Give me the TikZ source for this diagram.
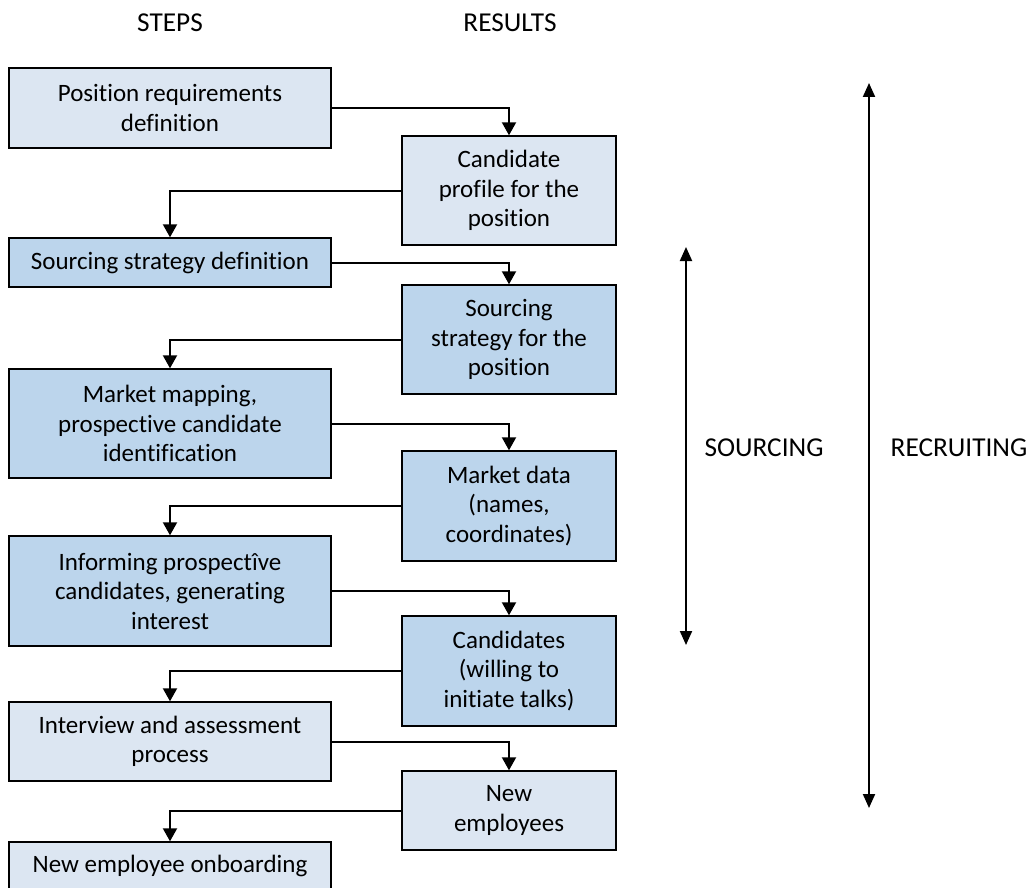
\documentclass[tikz,border=0pt]{standalone}
\usepackage{fontspec}
\setmainfont{Carlito}[Ligatures=NoCommon]
\usetikzlibrary{arrows.meta}
\definecolor{lightbox}{HTML}{DCE6F2}
\definecolor{darkbox}{HTML}{BCD5EC}
\tikzset{
  box/.style={draw=black, line width=1.4pt, rectangle, align=center, inner sep=0pt,
    font=\fontsize{25}{29.5}\selectfont},
  lbox/.style={box, minimum width=322pt},
  rbox/.style={box, minimum width=214pt},
  light/.style={fill=lightbox},
  dark/.style={fill=darkbox},
  flow/.style={line width=2pt, -{Triangle[width=14pt,length=13pt]}},
  span/.style={line width=2pt, {Triangle[width=12pt,length=14pt]}-{Triangle[width=12pt,length=14pt]}},
  lbl/.style={font=\fontsize{27.3}{32}\selectfont, inner sep=0pt}
}
\begin{document}
\begin{tikzpicture}[x=1pt,y=-1pt]
\useasboundingbox (0,0) rectangle (1031,888);
% headers
\node[lbl] (steps) at (170,23) {STEPS};
\node[lbl] (results) at (510,23) {RESULTS};
% left column
\node[lbox,light,minimum height=80pt]  (L1) at (170,108) {Position requirements\\definition};
\node[lbox,dark,minimum height=49pt]   (L2) at (170,262.5) {Sourcing strategy definition};
\node[lbox,dark,minimum height=109pt]  (L3) at (170,423.5) {Market mapping,\\prospective candidate\\identification};
\node[lbox,dark,minimum height=110pt]  (L4) at (170,591) {Informing prospectîve\\candidates, generating\\interest};
\node[lbox,light,minimum height=79pt]  (L5) at (170,741.5) {Interview and assessment\\process};
\node[lbox,light,minimum height=48pt]  (L6) at (170,866) {New employee onboarding};
% right column
\node[rbox,light,minimum height=109pt] (R1) at (509,190.5) {Candidate\\profile for the\\position};
\node[rbox,dark,minimum height=109pt]  (R2) at (509,339.5) {Sourcing\\strategy for the\\position};
\node[rbox,dark,minimum height=110pt]  (R3) at (509,506) {Market data\\(names,\\coordinates)};
\node[rbox,dark,minimum height=110pt]  (R4) at (509,671) {Candidates\\(willing to\\initiate talks)};
\node[rbox,light,minimum height=79pt]  (R5) at (509,810.5) {New\\employees};
% flow connectors
\draw[flow] (L1.east) -| (R1.north);
\draw[flow] (R1.west) -| (L2.north);
\draw[flow] (L2.east) -| (R2.north);
\draw[flow] (R2.west) -| (L3.north);
\draw[flow] (L3.east) -| (R3.north);
\draw[flow] (R3.west) -| (L4.north);
\draw[flow] (L4.east) -| (R4.north);
\draw[flow] (R4.west) -| (L5.north);
\draw[flow] (L5.east) -| (R5.north);
\draw[flow] (R5.west) -| (L6.north);
% spans
\coordinate (st) at (686,247);
\coordinate (sb) at (686,645);
\coordinate (rt) at (869,83);
\coordinate (rb) at (869,808);
\draw[span] (st) -- (sb);
\draw[span] (rt) -- (rb);
\node[lbl] (sourcing) at (764,448) {SOURCING};
\node[lbl] (recruiting) at (959,448) {RECRUITING};
\end{tikzpicture}
\end{document}
